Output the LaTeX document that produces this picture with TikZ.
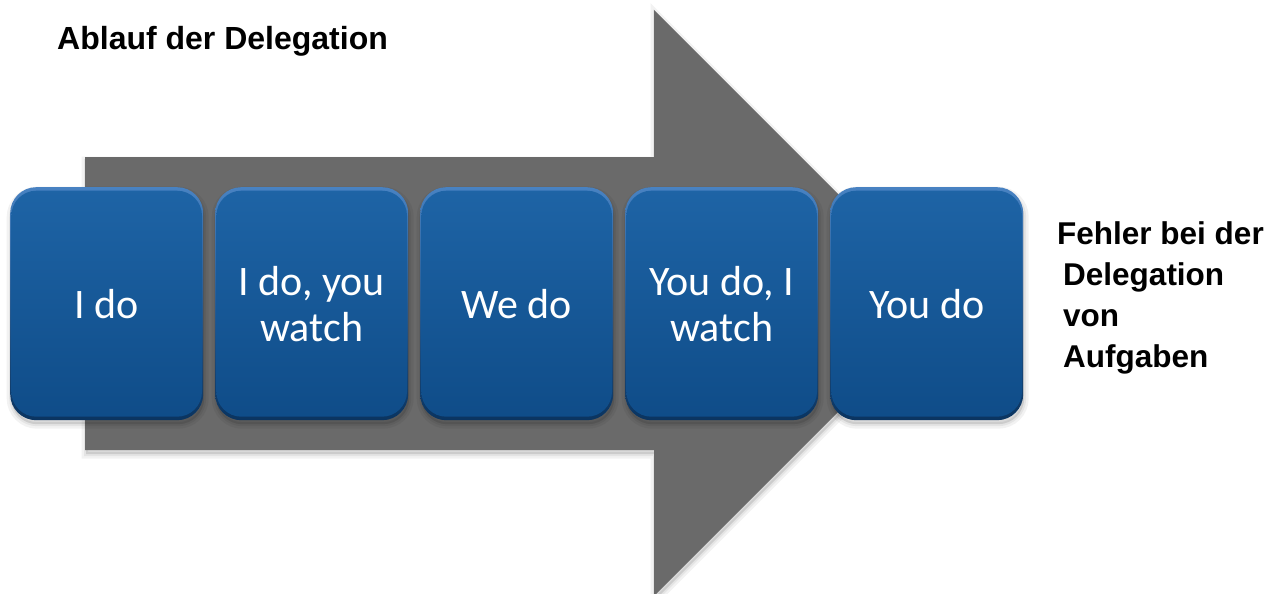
\documentclass[tikz,border=0pt]{standalone}
\usepackage{fontspec}
\setmainfont{Liberation Sans}
\newfontfamily\cardfont{Carlito}
\definecolor{arrowgray}{RGB}{106,106,106}
\definecolor{rimtop}{RGB}{72,130,194}
\definecolor{rimbottom}{RGB}{10,52,96}
\definecolor{cardtop}{RGB}{30,100,166}
\definecolor{cardbottom}{RGB}{15,76,136}
\begin{document}
\begin{tikzpicture}[x=1pt,y=-1pt,
  softshadow/.style={
    preaction={fill=black, fill opacity=0.10, draw=black, draw opacity=0.05,
      line width=9pt, transform canvas={xshift=1pt,yshift=-4pt}},
    preaction={draw=black, draw opacity=0.06, line width=4pt,
      transform canvas={xshift=1pt,yshift=-4pt}}},
  card/.style={softshadow, rounded corners=26pt, minimum width=193pt,
    minimum height=233pt, inner sep=0pt, anchor=north west, align=center,
    text=white, font=\cardfont\fontsize{42}{46}\selectfont,
    top color=rimtop, bottom color=rimbottom,
    path picture={\shade[top color=cardtop, bottom color=cardbottom, rounded corners=25pt]
      ([shift={(1.2pt,-3.5pt)}]path picture bounding box.north west) rectangle
      ([shift={(-1.2pt,3.5pt)}]path picture bounding box.south east);}},
  heading/.style={inner sep=0pt, font=\bfseries\fontsize{31.5}{41}\selectfont, align=left}
]
\clip (0,0) rectangle (1277,594);
\useasboundingbox (0,0) rectangle (1277,594);

% the large process arrow behind the cards
\fill[arrowgray, softshadow]
  (85,157) -- (654,157) -- (654,10) -- (947,303) -- (654,596)
  -- (654,450) -- (85,450) -- cycle;

% the five stages
\node[card] (s1) at (10,187)  {I do};
\node[card] (s2) at (215,187) {I do, you\\watch};
\node[card] (s3) at (420,187) {We do};
\node[card] (s4) at (625,187) {You do, I\\watch};
\node[card] (s5) at (830,187) {You do};

% headings
\node[heading, anchor=base west, font=\bfseries\fontsize{32}{38}\selectfont]
  (title) at (57,50) {Ablauf der Delegation};
\node[heading, anchor=north west] (side) at (1057,221)
  {Fehler bei der\\\hspace*{6pt}Delegation\\\hspace*{6pt}von\\\hspace*{6pt}Aufgaben};
\end{tikzpicture}
\end{document}
